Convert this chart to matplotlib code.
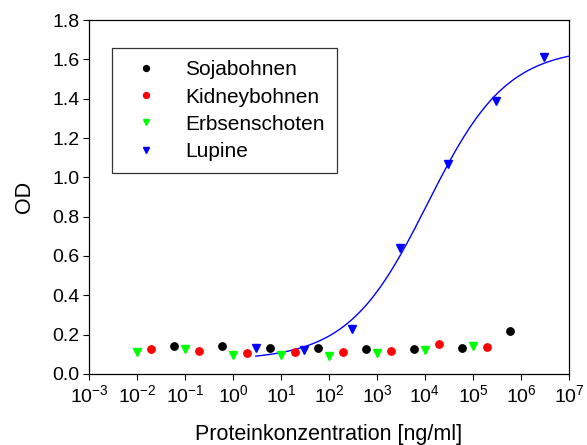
import numpy as np
import matplotlib
matplotlib.use("Agg")
import matplotlib.pyplot as plt
from matplotlib.ticker import FixedLocator, NullLocator

plt.rcParams['font.family'] = ['Liberation Sans', 'DejaVu Sans']
plt.rcParams['mathtext.default'] = 'regular'

soja_x = [0.06, 0.6, 6, 60, 600, 6000, 60000, 600000]
soja_y = [0.14, 0.14, 0.13, 0.13, 0.125, 0.125, 0.13, 0.22]

kidney_x = [0.02, 0.2, 2, 20, 200, 2000, 20000, 200000]
kidney_y = [0.125, 0.115, 0.105, 0.11, 0.11, 0.115, 0.15, 0.135]

erbsen_x = [0.01, 0.1, 1, 10, 100, 1000, 10000, 100000]
erbsen_y = [0.11, 0.125, 0.095, 0.095, 0.09, 0.105, 0.12, 0.14]

lupine_x = [3, 30, 300, 3000, 30000, 300000, 3000000]
lupine_y = [0.13, 0.12, 0.23, 0.64, 1.07, 1.39, 1.61]

xtick_exp = [-3, -2, -1, 0, 1, 2, 3, 4, 5, 6, 7]
yticks = [0.0, 0.2, 0.4, 0.6, 0.8, 1.0, 1.2, 1.4, 1.6, 1.8]


def logistic(lx, a, d, lc, b):
    return a + (d - a) / (1 + 10 ** (b * (lc - lx)))


# 4-Parameter-Fit fuer Lupine (grobe Gittersuche)
lx = np.log10(lupine_x)
ly = np.array(lupine_y)
A, D, C, B = np.meshgrid(np.linspace(0.0, 0.15, 16), np.linspace(1.5, 2.0, 26),
                         np.linspace(3.0, 5.0, 41), np.linspace(0.3, 1.2, 37), indexing='ij')
err = np.zeros(A.shape)
for xi, yi in zip(lx, ly):
    err += (logistic(xi, A, D, C, B) - yi) ** 2
i = np.unravel_index(np.argmin(err), err.shape)
pa, pd, pc, pb = A[i], D[i], C[i], B[i]

fig = plt.figure(figsize=(5.87, 4.45), dpi=100)
ax = fig.add_axes([0.1516, 0.1596, 0.8177, 0.7954])

ax.plot(soja_x, soja_y, 'o', color='black', ms=5.3, label='Sojabohnen', zorder=3)
ax.plot(kidney_x, kidney_y, 'o', color='#ff0000', ms=5.3, label='Kidneybohnen', zorder=3)
ax.plot(erbsen_x, erbsen_y, 'v', color='#00ff00', ms=6.2, label='Erbsenschoten', zorder=3)
ax.plot(lupine_x, lupine_y, 'v', color='#0000ff', ms=6.2, label='Lupine', zorder=3)

fx = np.logspace(np.log10(3), 7, 300)
ax.plot(fx, logistic(np.log10(fx), pa, pd, pc, pb), color='#0000ff', lw=1.0, zorder=2)

ax.set_xscale('log')
ax.set_xlim(1e-3, 1e7)
ax.set_ylim(0, 1.8)
ax.xaxis.set_major_locator(FixedLocator([10.0 ** e for e in xtick_exp]))
ax.set_xticklabels([r'$10^{%d}$' % e for e in xtick_exp])
ax.xaxis.set_minor_locator(NullLocator())
ax.set_yticks(yticks)
ax.set_yticklabels(['%.1f' % v for v in yticks])

ax.tick_params(direction='out', length=4, width=0.8, labelsize=14, pad=3)
for s in ax.spines.values():
    s.set_linewidth(0.9)

ax.set_xlabel('Proteinkonzentration [ng/ml]', fontsize=15.5, labelpad=13)
ax.set_ylabel('OD', fontsize=15.5, labelpad=12)

leg = ax.legend(loc='upper left', bbox_to_anchor=(0.048, 0.921), fontsize=15,
                markerscale=0.8, frameon=True, fancybox=False, edgecolor='black',
                labelspacing=0.39, handletextpad=0.8, borderpad=0.6, borderaxespad=0,
                handlelength=2.1)
leg.get_frame().set_linewidth(0.9)

fig.savefig('out.png', dpi=100)
